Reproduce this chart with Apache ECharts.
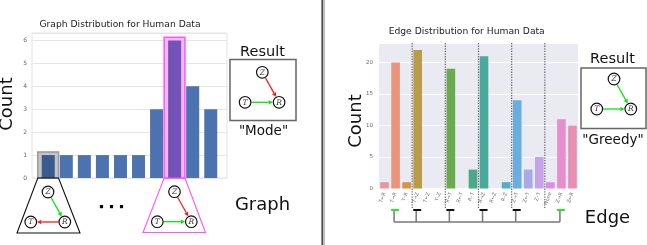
<!DOCTYPE html>
<html><head><meta charset="utf-8">
<script src="https://cdn.jsdelivr.net/npm/echarts@6/dist/echarts.min.js"></script>
<style>html,body{margin:0;padding:0;background:#fff}#c{width:647px;height:245px}</style>
</head><body><div id="c"></div>
<script>
// ---- data ----
const graphIndex = [0,1,2,3,4,5,6,7,8,9];
const graphCounts = [1,1,1,1,1,1,3,6,4,3];
const graphTicks = [0,1,2,3,4,5,6];
const exampleGraph = 0;   // grey highlighted bar
const modeGraph = 7;      // pink highlighted bar (mode)
const edgeLabels = ['T←R','T→R','T–R','T→Z','T←Z','T–Z','R→T','R←T','R–T','R→Z','R←Z','R–Z','Z→T','Z←T','Z–T','None','Z→R','Z←R'];
const edgeCounts = [1,20,1,22,0,0,19,0,3,21,0,1,14,3,5,1,11,10];
const edgeTicks = [0,5,10,15,20];
const edgeColors = ['#e8979f','#e8957c','#d6934b','#b89c4a','#9da34a','#7fa84a','#6aab4f','#55ab70','#4aa98a','#4aa99d','#4babb0','#4eafc7','#6aaee0','#a8a9e6','#c6a2e7','#dc8ee6','#e78ecd','#e78fb4'];
const groupBounds = [3,6,9,12,15];
const greedyEdges = [1,16];
const groupReps = [3,6,9,12];

const chart = echarts.init(document.getElementById('c'), null, {renderer:'canvas'});
const FF = 'DejaVu Sans';
chart.setOption({
  animation:false,
  backgroundColor:'#fff',
  grid:[
    {left:32,top:33,width:195,height:145,show:true,backgroundColor:'#fff',borderColor:'#e2e2e2',borderWidth:1},
    {left:379,top:43,width:199,height:145.5,show:true,backgroundColor:'#eaeaf2',borderWidth:0}
  ],
  xAxis:[
    {gridIndex:0,type:'value',min:-0.9,max:9.9,show:false},
    {gridIndex:1,type:'category',data:edgeLabels,axisLine:{show:false},axisTick:{show:false},splitLine:{show:false},
     axisLabel:{interval:0,rotate:70,fontSize:5,color:'#777',margin:4,fontFamily:FF}}
  ],
  yAxis:[
    {gridIndex:0,type:'value',min:0,max:6.33,interval:1,axisLine:{show:false},axisTick:{show:false},
     axisLabel:{fontSize:6,color:'#666',margin:5,fontFamily:FF,showMaxLabel:false,
       formatter:v=>graphTicks.includes(v)?String(v):''},
     splitLine:{lineStyle:{color:'#e6e6e6',width:1}}},
    {gridIndex:1,type:'value',min:0,max:23.1,interval:5,axisLine:{show:false},axisTick:{show:false},
     axisLabel:{fontSize:5.5,color:'#666',margin:6,fontFamily:FF,showMaxLabel:false,
       formatter:v=>edgeTicks.includes(v)?String(v):''},
     splitLine:{lineStyle:{color:'#fff',width:1}}}
  ],
  series:[
    {type:'bar',xAxisIndex:0,yAxisIndex:0,barWidth:13,z:3,
     data:graphCounts.map((v,i)=>({value:[graphIndex[i],v],itemStyle:{color:i===exampleGraph?'#3b5a8e':(i===modeGraph?'#7453b9':'#4c72b0')}}))},
    {type:'bar',xAxisIndex:1,yAxisIndex:1,barWidth:'78%',z:3,
     data:edgeCounts.map((v,i)=>({value:v,itemStyle:{color:edgeColors[i]}}))}
  ]
});

const px = (g,x,y)=>chart.convertToPixel({gridIndex:g},[x,y]);
const G = [];
function txt(s,x,y,size,opts){
  opts=opts||{};
  G.push({type:'text',x:x,y:y,rotation:opts.rot||0,z:10,
    style:{text:s,x:0,y:0,fill:opts.fill||'#111',fontSize:size,fontFamily:opts.ff||FF,fontStyle:opts.fs||'normal',
      align:'center',verticalAlign:'middle'}});
}
function node(x,y,l){
  G.push({type:'circle',z:10,shape:{cx:x,cy:y,r:5.8},style:{fill:'#fff',stroke:'#111',lineWidth:1.2}});
  txt(l,x,y+0.3,7.5,{ff:'DejaVu Serif',fs:'italic',fill:'#333'});
}
function arrow(a,b,col){
  const dx=b[0]-a[0],dy=b[1]-a[1],L=Math.hypot(dx,dy),ux=dx/L,uy=dy/L,r=6.3,h=4.2,w=2.3;
  const s=[a[0]+ux*r,a[1]+uy*r],e=[b[0]-ux*r,b[1]-uy*r],m=[e[0]-ux*h,e[1]-uy*h];
  G.push({type:'line',z:9,shape:{x1:s[0],y1:s[1],x2:m[0],y2:m[1]},style:{stroke:col,lineWidth:1.3}});
  G.push({type:'polygon',z:9,shape:{points:[e,[m[0]-uy*w,m[1]+ux*w],[m[0]+uy*w,m[1]-ux*w]]},style:{fill:col}});
}
const RED='#ee2020',GRN='#10e010';
function diagram(zx,zy,edges){
  const P={Z:[zx,zy],T:[zx-17.2,zy+30],R:[zx+16.8,zy+30]};
  edges.forEach(e=>arrow(P[e[0]],P[e[1]],e[2]));
  node(P.Z[0],P.Z[1],'Z');node(P.T[0],P.T[1],'T');node(P.R[0],P.R[1],'R');
}

// highlight boxes and trapezoids (left)
const gb = px(0,0,0)[1];
function hbox(i,fill,stroke,lw,bl,br,by){
  const a=px(0,graphIndex[i]-0.58,graphCounts[i]+0.14), b=px(0,graphIndex[i]+0.57,0);
  G.push({type:'rect',z:1,shape:{x:a[0],y:a[1],width:b[0]-a[0],height:b[1]-a[1]},style:{fill:fill,stroke:stroke,lineWidth:lw}});
  G.push({type:'polygon',z:5,shape:{points:[[a[0],gb],[b[0],gb],[br,by],[bl,by]]},style:{fill:'none',stroke:stroke==='#999'?'#111':stroke,lineWidth:1.1}});
}
hbox(exampleGraph,'#c4c4c4','#999',1.5,17,80,233);
hbox(modeGraph,'#f6b8f6','#ff55ff',1.5,143,205.5,232.5);
diagram(48,192,[['Z','R',GRN],['R','T',RED]]);
diagram(174.5,191.7,[['Z','R',RED],['T','R',GRN]]);
[101.5,111.5,121.5].forEach(x=>G.push({type:'rect',z:5,shape:{x:x-1.6,y:205,width:3.2,height:3.2},style:{fill:'#000'}}));

// result boxes
G.push({type:'rect',z:5,shape:{x:230,y:59.5,width:66,height:61},style:{fill:'#fff',stroke:'#666',lineWidth:1.5}});
diagram(262.3,72.3,[['Z','R',RED],['T','R',GRN]]);
G.push({type:'rect',z:5,shape:{x:581,y:68,width:65,height:60.5},style:{fill:'#fff',stroke:'#666',lineWidth:1.5}});
diagram(614,79,[['Z','R',GRN],['T','R',GRN]]);

// texts
txt('Graph Distribution for Human Data',120,24.5,9.2,{fill:'#222'});
txt('Edge Distribution for Human Data',466.7,32,9.2,{fill:'#222'});
txt('Count',7.5,104,18,{rot:Math.PI/2});
txt('Count',356.5,121,18,{rot:Math.PI/2});
txt('Graph',262.5,205,18);
txt('Edge',607.5,218,18);
txt('Result',262.5,52,14.5);
txt('Result',612.5,59.5,14.5);
txt('"Mode"',263.5,131,13.5);
txt('"Greedy"',613,140.5,13.5);

// separator
G.push({type:'rect',z:5,shape:{x:321,y:0,width:4,height:245},style:{fill:'#a0a0a0'}});
G.push({type:'line',z:6,shape:{x1:322.4,y1:0,x2:322.4,y2:245},style:{stroke:'#505050',lineWidth:1.2}});
G.push({type:'line',z:6,shape:{x1:324,y1:0,x2:324,y2:245},style:{stroke:'#e8e8e8',lineWidth:0.8}});

// right chart dotted separators and tree
const cx = i=>px(1,i,0)[0];
const topY = px(1,0,23.1)[1];
groupBounds.forEach(b=>{
  const x=(cx(b-1)+cx(b))/2;
  G.push({type:'line',z:6,shape:{x1:x,y1:topY,x2:x,y2:208},style:{stroke:'#666',lineWidth:1.2,lineDash:[1.3,1.3]}});
});
const mk=[...greedyEdges.map(i=>[i,'#20ee20']),...groupReps.map(i=>[i,'#111'])];
const xs=mk.map(m=>cx(m[0]));
G.push({type:'line',z:6,shape:{x1:Math.min(...xs)-1.5,y1:222,x2:Math.max(...xs)-1.5,y2:222},style:{stroke:'#777',lineWidth:1.5}});
mk.forEach(m=>{
  const x=cx(m[0]);
  G.push({type:'line',z:6,shape:{x1:x-1.5,y1:210,x2:x-1.5,y2:222},style:{stroke:'#777',lineWidth:1.5}});
  G.push({type:'line',z:7,shape:{x1:x-4.5,y1:210,x2:x+3.5,y2:210},style:{stroke:m[1],lineWidth:2}});
});

chart.setOption({graphic:G});
</script></body></html>
